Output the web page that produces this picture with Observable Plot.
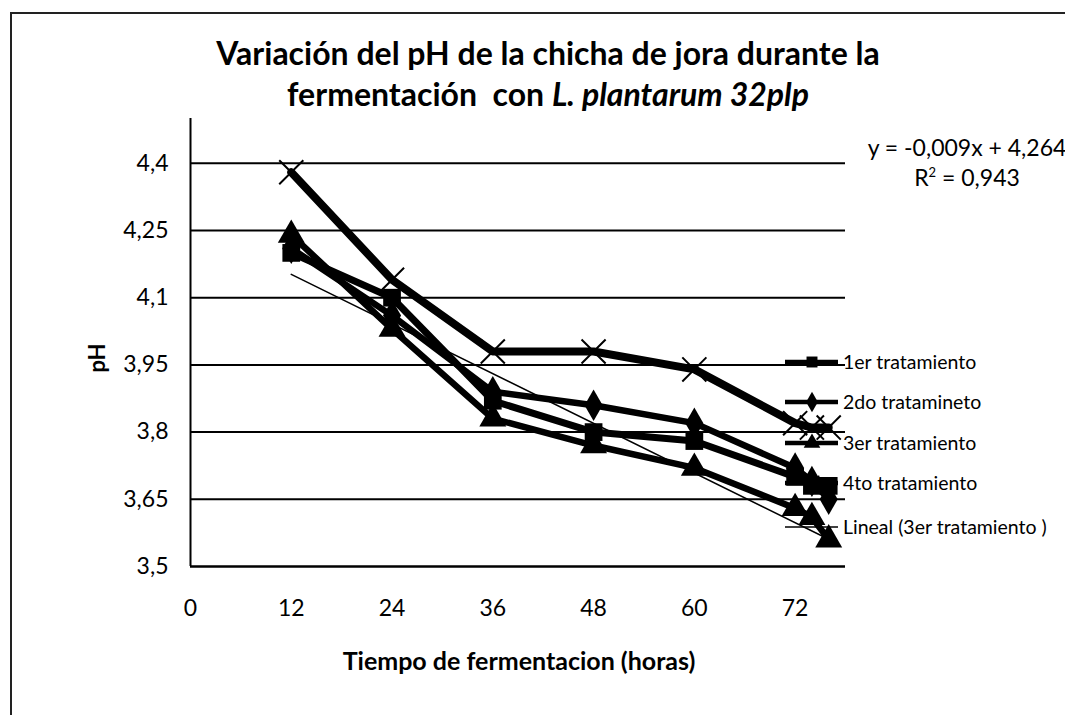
<!DOCTYPE html>
<html>
<head>
<meta charset="utf-8">
<script src="https://cdn.jsdelivr.net/npm/d3@7"></script>
<script src="https://cdn.jsdelivr.net/npm/@observablehq/plot@0.6"></script>
<style>
  html, body { margin: 0; padding: 0; background: #fff; overflow: hidden; }
  #wrap { position: relative; width: 1065px; height: 715px; overflow: hidden; font-family: Lato, "DejaVu Sans", sans-serif; color: #000; }
  #frame { position: absolute; left: 10px; top: 12px; width: 1200px; height: 900px; border-left: 2px solid #222; border-top: 2px solid #222; }
  #title { position: absolute; left: 98px; width: 900px; top: 32px; text-align: center; font-weight: 700; font-size: 32px; line-height: 41px; }
  #legend { position: absolute; left: 785px; top: 0; z-index: 0; }
  .lg { position: absolute; left: 0; height: 22px; white-space: nowrap; font-size: 19.5px; line-height: 22px; }
  .lg svg { position: absolute; left: 0; top: 0; }
  .lg span { position: absolute; left: 58px; top: 0; }
  #chart { position: absolute; left: 0; top: 0; z-index: 1; }
  #eq { position: absolute; left: 817px; width: 300px; top: 132px; text-align: center; font-size: 23px; line-height: 30px; white-space: nowrap; z-index: 2; }
  #ylab { position: absolute; left: 96px; top: 358px; transform: translate(-50%, -50%) rotate(-90deg); font-weight: 700; font-size: 22px; }
  #xlab { position: absolute; left: 519px; top: 645px; transform: translateX(-50%); font-weight: 700; font-size: 25px; white-space: nowrap; }
</style>
</head>
<body>
<div id="wrap">
  <div id="frame"></div>
  <div id="title">Variación del pH de la chicha de jora durante la<br>fermentación&nbsp; con <i>L. plantarum 32plp</i></div>
  <div id="legend"></div>
  <div id="chart"></div>
  <div id="eq">y = -0,009x + 4,264<br>R<sup style="font-size:13px;vertical-align:9px;line-height:0">2</sup> = 0,943</div>
  <div id="ylab">pH</div>
  <div id="xlab">Tiempo de fermentacion (horas)</div>
</div>
<script>
// ---- data ----
const hours = [12, 24, 36, 48, 60, 72, 74, 76];
const trat1 = [4.20, 4.10, 3.87, 3.80, 3.78, 3.70, 3.68, 3.68];
const trat2 = [4.21, 4.06, 3.89, 3.86, 3.82, 3.72, 3.69, 3.65];
const trat3 = [4.24, 4.03, 3.83, 3.77, 3.72, 3.63, 3.61, 3.56];
const trat4 = [4.38, 4.14, 3.98, 3.98, 3.94, 3.82, 3.81, 3.81];
const seriesNames = ["1er tratamiento", "2do tratamineto", "3er tratamiento", "4to tratamiento"];
const trendName = "Lineal (3er tratamiento )";
const xTicks = [0, 12, 24, 36, 48, 60, 72];
const yTicks = [3.5, 3.65, 3.8, 3.95, 4.1, 4.25, 4.4];

// ---- build table ----
const values = [trat1, trat2, trat3, trat4];
const rows = [];
values.forEach((vals, i) => vals.forEach((v, j) => rows.push({serie: seriesNames[i], h: hours[j], ph: v})));
const of = name => rows.filter(r => r.serie === name);

const symbols = ["square", "diamond", "triangle", "times"];
const lineW = [7, 6.5, 6.5, 8];
const dotR = [10, 9.5, 10, 11];

const fmt = d => String(d).replace(".", ",");

const marks = [
  Plot.gridY(yTicks, {stroke: "#000", strokeOpacity: 1, strokeWidth: 2}),
  Plot.ruleX([0], {stroke: "#000", strokeWidth: 2}),
  Plot.ruleY([3.5], {stroke: "#000", strokeWidth: 2}),
  Plot.axisY(yTicks, {tickSize: 0, tickPadding: 22, tickFormat: fmt, label: null, fontSize: 23}),
  Plot.axisX(xTicks, {tickSize: 0, tickPadding: 33, label: null, fontSize: 23})
];
seriesNames.forEach((name, i) => {
  marks.push(Plot.line(of(name), {x: "h", y: "ph", stroke: "#000", strokeWidth: lineW[i], strokeLinejoin: "round"}));
});
seriesNames.forEach((name, i) => {
  if (symbols[i] === "times") {
    marks.push(Plot.dot(of(name), {x: "h", y: "ph", symbol: "times", r: dotR[i], stroke: "#000", strokeWidth: 2, fill: "none"}));
  } else {
    marks.push(Plot.dot(of(name), {x: "h", y: "ph", symbol: symbols[i], r: dotR[i], fill: "#000", stroke: "none"}));
  }
});
marks.push(Plot.linearRegressionY(of(seriesNames[2]), {x: "h", y: "ph", ci: 0, stroke: "#000", strokeWidth: 1.5}));

const chart = Plot.plot({
  width: 1065,
  height: 715,
  marginLeft: 190,
  marginRight: 220,
  marginTop: 118,
  marginBottom: 149,
  x: {domain: [0, 78]},
  y: {domain: [3.5, 4.5]},
  style: {background: "transparent", fontFamily: "Lato, 'DejaVu Sans', sans-serif", color: "#000", fontSize: "23px"},
  marks
});
document.getElementById("chart").appendChild(chart);

// ---- legend (behind the plot, as in the reference) ----
const legend = d3.select("#legend");
const legendItems = seriesNames.map((n, i) => ({name: n, sym: symbols[i], w: 4.5})).concat([{name: trendName, sym: null, w: 1.5}]);
const rowY = [351, 391, 432, 472, 516];
const symMap = {square: d3.symbolSquare, diamond: d3.symbolDiamond, triangle: d3.symbolTriangle, times: d3.symbolTimes};
legendItems.forEach((it, i) => {
  const row = legend.append("div").attr("class", "lg").style("top", rowY[i] + "px");
  const svg = row.append("svg").attr("width", 56).attr("height", 22);
  svg.append("line").attr("x1", 0).attr("x2", 53).attr("y1", 11).attr("y2", 11).attr("stroke", "#000").attr("stroke-width", it.w);
  if (it.sym) {
    const p = svg.append("path").attr("transform", "translate(27,11)")
      .attr("d", d3.symbol(symMap[it.sym], it.sym === "times" ? 140 : 120)());
    if (it.sym === "times") p.attr("fill", "none").attr("stroke", "#000").attr("stroke-width", 1.5);
    else p.attr("fill", "#000");
  }
  row.append("span").text(it.name);
});
</script>
</body>
</html>
